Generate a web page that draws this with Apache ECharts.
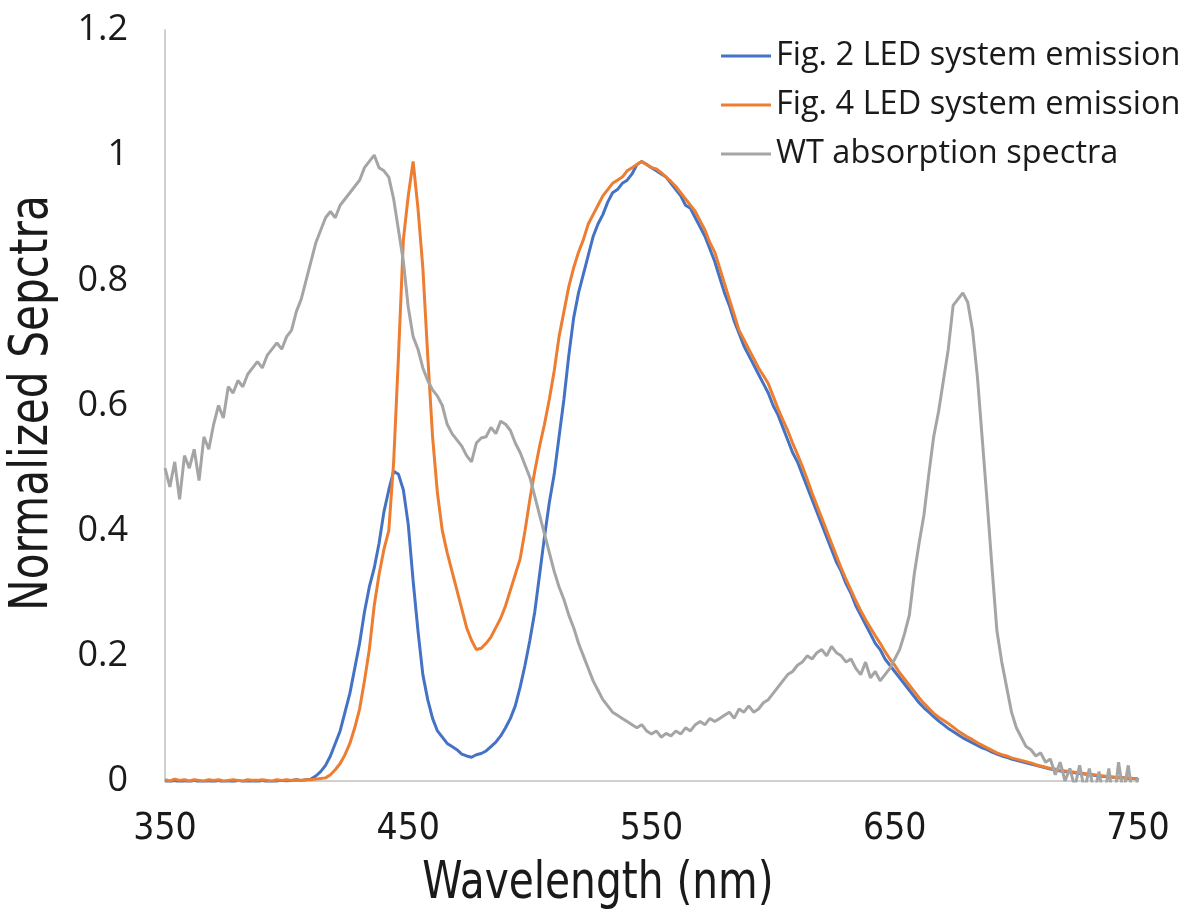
<!DOCTYPE html>
<html>
<head>
<meta charset="utf-8">
<script src="https://cdn.jsdelivr.net/npm/echarts@6/dist/echarts.min.js"></script>
<style>
html,body{margin:0;padding:0;background:#fff;}
#chart{width:1196px;height:913px;}
</style>
</head>
<body>
<div id="chart"></div>
<script>
const wavelengths = [
350,352,354,356,358,360,362,364,366,368,
370,372,374,376,378,380,382,384,386,388,
390,392,394,396,398,400,402,404,406,408,
410,412,414,416,418,420,422,424,426,428,
430,432,434,436,438,440,442,444,446,448,
450,452,454,456,458,460,462,464,466,468,
470,472,474,476,478,480,482,484,486,488,
490,492,494,496,498,500,502,504,506,508,
510,512,514,516,518,520,522,524,526,528,
530,532,534,536,538,540,542,544,546,548,
550,552,554,556,558,560,562,564,566,568,
570,572,574,576,578,580,582,584,586,588,
590,592,594,596,598,600,602,604,606,608,
610,612,614,616,618,620,622,624,626,628,
630,632,634,636,638,640,642,644,646,648,
650,652,654,656,658,660,662,664,666,668,
670,672,674,676,678,680,682,684,686,688,
690,692,694,696,698,700,702,704,706,708,
710,712,714,716,718,720,722,724,726,728,
730,732,734,736,738,740,742,744,746,748,
750];

const fig2Emission = [
0.0,-0.002,0.001,-0.003,0.0,-0.002,0.001,-0.002,-0.003,0.0,
-0.002,0.001,-0.003,0.0,-0.002,0.001,-0.001,-0.003,0.0,-0.002,
0.001,-0.002,-0.004,0.0,0.001,0.0,0.001,0.002,0.001,0.002,
0.003,0.008,0.015,0.025,0.04,0.06,0.08,0.11,0.14,0.18,
0.22,0.27,0.31,0.34,0.38,0.43,0.465,0.495,0.49,0.465,
0.41,0.32,0.24,0.17,0.13,0.10,0.08,0.07,0.06,0.055,
0.05,0.043,0.04,0.038,0.042,0.044,0.048,0.055,0.062,0.072,
0.085,0.10,0.12,0.15,0.185,0.225,0.27,0.33,0.39,0.445,
0.49,0.55,0.61,0.68,0.74,0.78,0.81,0.84,0.87,0.89,
0.905,0.925,0.94,0.945,0.955,0.96,0.97,0.985,0.99,0.985,
0.98,0.975,0.97,0.965,0.955,0.945,0.935,0.92,0.915,0.90,
0.885,0.87,0.85,0.83,0.805,0.78,0.76,0.735,0.715,0.695,
0.68,0.665,0.65,0.635,0.62,0.60,0.585,0.565,0.545,0.525,
0.51,0.49,0.47,0.45,0.43,0.41,0.39,0.37,0.35,0.335,
0.315,0.30,0.28,0.265,0.25,0.235,0.22,0.21,0.195,0.185,
0.175,0.165,0.155,0.145,0.135,0.125,0.117,0.11,0.103,0.096,
0.09,0.084,0.079,0.074,0.069,0.065,0.061,0.057,0.053,0.05,
0.046,0.043,0.04,0.038,0.035,0.033,0.031,0.029,0.027,0.025,
0.023,0.021,0.019,0.018,0.016,0.015,0.014,0.013,0.012,0.011,
0.01,0.009,0.008,0.007,0.007,0.006,0.005,0.005,0.004,0.004,
0.003];

const fig4Emission = [
0.002,0.0,0.003,0.001,0.002,0.0,0.002,0.001,0.0,0.002,
0.001,0.002,0.0,0.001,0.002,0.001,0.0,0.002,0.001,0.001,
0.002,0.001,0.0,0.002,0.001,0.002,0.001,0.002,0.001,0.002,
0.002,0.003,0.004,0.005,0.01,0.018,0.028,0.042,0.06,0.085,
0.115,0.16,0.21,0.28,0.33,0.37,0.40,0.51,0.68,0.865,
0.935,0.99,0.915,0.82,0.68,0.55,0.46,0.40,0.365,0.335,
0.305,0.275,0.245,0.225,0.21,0.212,0.22,0.23,0.245,0.26,
0.28,0.305,0.33,0.355,0.40,0.45,0.495,0.535,0.57,0.61,
0.655,0.71,0.75,0.79,0.82,0.845,0.865,0.89,0.905,0.92,
0.935,0.945,0.955,0.96,0.965,0.975,0.98,0.985,0.99,0.985,
0.98,0.978,0.972,0.965,0.958,0.95,0.94,0.93,0.92,0.91,
0.895,0.88,0.86,0.845,0.82,0.795,0.77,0.745,0.72,0.705,
0.69,0.675,0.66,0.648,0.635,0.615,0.595,0.577,0.56,0.54,
0.522,0.503,0.482,0.46,0.44,0.42,0.40,0.38,0.36,0.34,
0.322,0.305,0.288,0.272,0.258,0.245,0.232,0.22,0.207,0.195,
0.185,0.173,0.163,0.153,0.143,0.133,0.124,0.116,0.108,0.102,
0.097,0.092,0.086,0.08,0.075,0.07,0.066,0.061,0.057,0.053,
0.049,0.045,0.042,0.04,0.037,0.035,0.033,0.031,0.029,0.026,
0.024,0.022,0.02,0.019,0.017,0.016,0.015,0.014,0.013,0.012,
0.011,0.01,0.009,0.008,0.007,0.006,0.006,0.005,0.005,0.004,
0.004];

const wtAbsorption = [
0.50,0.47,0.51,0.45,0.52,0.50,0.53,0.48,0.55,0.53,
0.57,0.60,0.58,0.63,0.62,0.64,0.63,0.65,0.66,0.67,
0.66,0.68,0.69,0.70,0.69,0.71,0.72,0.75,0.77,0.80,
0.83,0.86,0.88,0.90,0.91,0.90,0.92,0.93,0.94,0.95,
0.96,0.98,0.99,1.00,0.98,0.975,0.965,0.93,0.88,0.83,
0.757,0.71,0.69,0.66,0.64,0.625,0.615,0.60,0.57,0.555,
0.545,0.535,0.52,0.51,0.54,0.548,0.55,0.565,0.555,0.575,
0.57,0.56,0.54,0.525,0.505,0.485,0.455,0.425,0.395,0.365,
0.335,0.31,0.29,0.265,0.245,0.22,0.20,0.18,0.16,0.145,
0.13,0.12,0.11,0.105,0.10,0.095,0.09,0.085,0.09,0.08,
0.075,0.08,0.07,0.076,0.072,0.08,0.075,0.085,0.08,0.09,
0.095,0.09,0.10,0.095,0.10,0.105,0.11,0.10,0.115,0.11,
0.12,0.11,0.115,0.125,0.13,0.14,0.15,0.16,0.17,0.175,
0.185,0.19,0.20,0.195,0.205,0.21,0.20,0.215,0.205,0.20,
0.19,0.195,0.18,0.17,0.19,0.165,0.175,0.16,0.17,0.18,
0.195,0.21,0.235,0.265,0.33,0.38,0.425,0.49,0.55,0.59,
0.64,0.69,0.76,0.77,0.78,0.765,0.72,0.645,0.545,0.445,
0.34,0.24,0.19,0.15,0.11,0.085,0.07,0.055,0.05,0.04,
0.045,0.03,0.035,0.01,0.03,0.0,0.02,-0.01,0.025,-0.015,
0.02,-0.02,0.015,-0.03,0.02,-0.04,0.03,-0.02,0.025,-0.03,
0.005];

const seriesNames = ['Fig. 2 LED system emission', 'Fig. 4 LED system emission', 'WT absorption spectra'];
const xTickLabels = [350, 450, 550, 650, 750];
const xTitle = 'Wavelength (nm)';
const yTitle = 'Normalized Sepctra';

const colors = ['#4472C4', '#ED7D31', '#A5A5A5'];
const narrow = '"Liberation Sans Narrow","DejaVu Sans Condensed","Open Sans",sans-serif';

function pairs(vals){ return wavelengths.map((w,i)=>[w, vals[i]]); }
const allVals = [fig2Emission, fig4Emission, wtAbsorption];

const chart = echarts.init(document.getElementById('chart'), null, {renderer:'canvas'});
chart.setOption({
  animation: false,
  backgroundColor: '#ffffff',
  grid: {left: 165, right: 58, top: 30, bottom: 132, containLabel: false},
  legend: {
    orient: 'vertical',
    left: 716, top: 33,
    itemWidth: 50, itemHeight: 3, itemGap: 13,
    icon: 'rect',
    textStyle: {fontFamily: '"Open Sans", sans-serif', fontSize: 32.5, color: '#1a1a1a', lineHeight: 36, padding: [0,0,0,0]},
    data: seriesNames
  },
  xAxis: {
    type: 'value', min: 350, max: 750, interval: 50,
    axisLine: {show: true, lineStyle: {color: '#d0d0d0', width: 2}},
    axisTick: {show: false},
    splitLine: {show: false},
    axisLabel: {
      margin: 30,
      fontFamily: narrow, fontSize: 37, color: '#1a1a1a',
      formatter: v => (xTickLabels.indexOf(v) >= 0 ? String(v) : '')
    }
  },
  yAxis: {
    type: 'value', min: 0, max: 1.2, interval: 0.2,
    axisLine: {show: true, lineStyle: {color: '#d0d0d0', width: 2}},
    axisTick: {show: false},
    splitLine: {show: false},
    axisLabel: {margin: 37, fontFamily: '"Open Sans", sans-serif', fontSize: 36, color: '#1a1a1a'}
  },
  graphic: [
    {type: 'text', x: 598, y: 884, scaleX: 0.87, style: {text: xTitle, font: '52px ' + narrow, fill: '#1a1a1a', align: 'center', verticalAlign: 'middle'}},
    {type: 'text', x: 33, y: 403, rotation: Math.PI/2, scaleX: 0.87, style: {text: yTitle, font: '54px ' + narrow, fill: '#1a1a1a', align: 'center', verticalAlign: 'middle'}}
  ],
  series: seriesNames.map((n, i) => ({
    name: n, type: 'line', showSymbol: false, symbol: 'none',
    data: pairs(allVals[i]),
    lineStyle: {color: colors[i], width: 3},
    itemStyle: {color: colors[i]},
    z: 2 + i
  }))
});
</script>
</body>
</html>
